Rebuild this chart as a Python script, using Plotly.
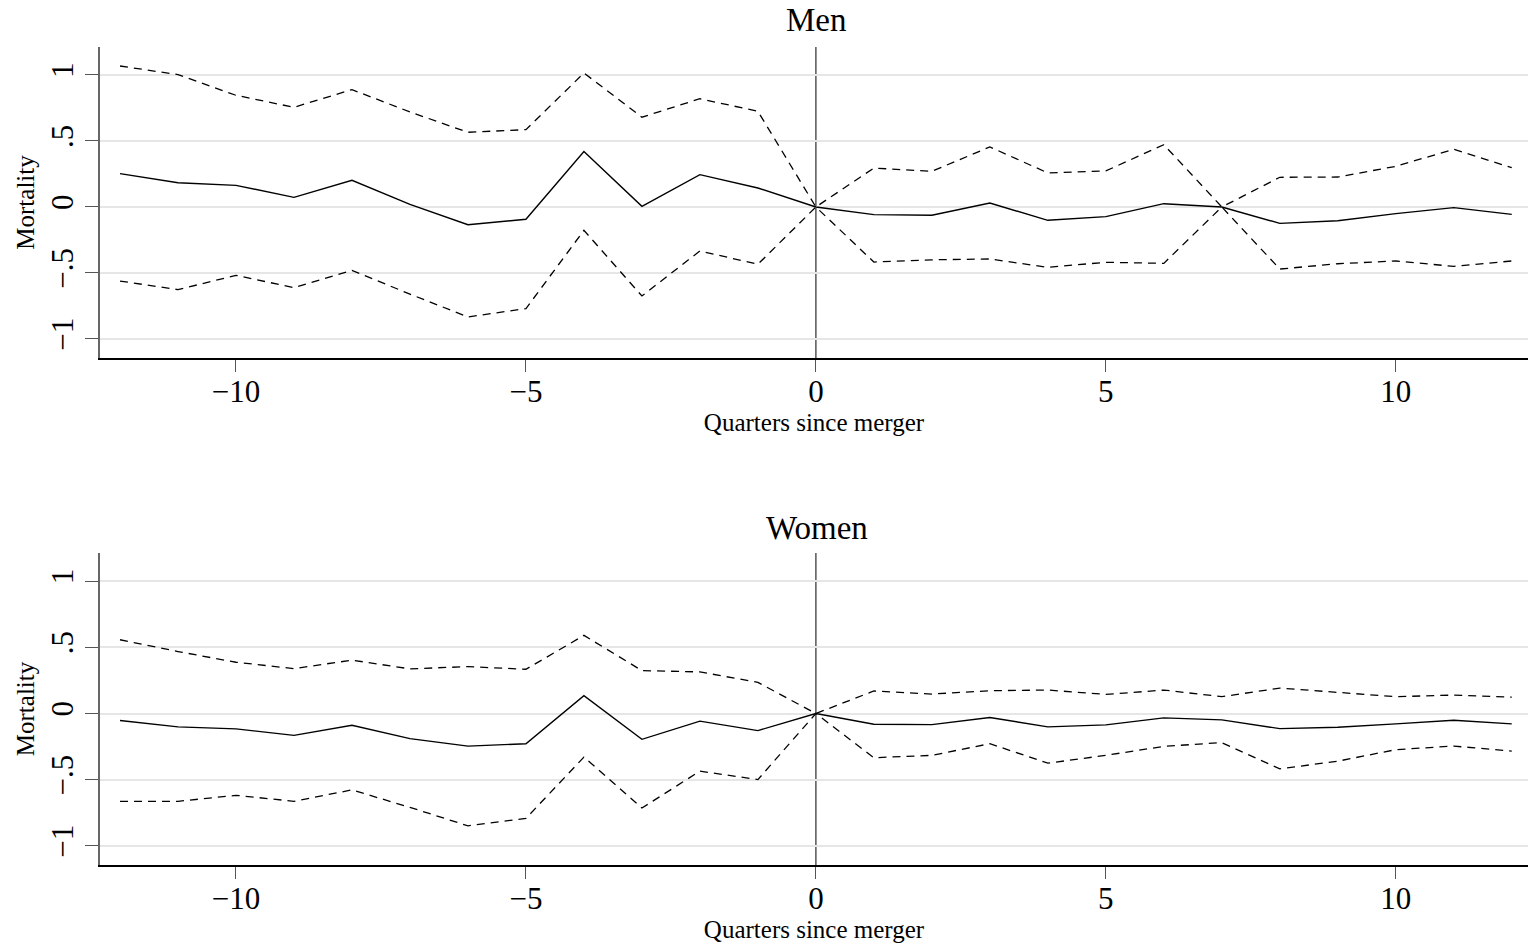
import plotly.graph_objects as go

quarters = list(range(-12, 13))

men_est = [0.253, 0.184, 0.164, 0.073, 0.202, 0.02, -0.134, -0.093, 0.42,
           0.005, 0.245, 0.144, 0.0, -0.058, -0.063, 0.03, -0.101, -0.073,
           0.025, 0.0, -0.124, -0.104, -0.05, -0.005, -0.056]
men_hi = [1.068, 1.003, 0.846, 0.755, 0.889, 0.72, 0.566, 0.586, 1.015,
          0.68, 0.82, 0.725, 0.0, 0.295, 0.27, 0.455, 0.258, 0.273,
          0.472, 0.0, 0.225, 0.227, 0.308, 0.437, 0.298]
men_lo = [-0.561, -0.626, -0.518, -0.611, -0.48, -0.66, -0.833, -0.77, -0.177,
          -0.674, -0.333, -0.434, 0.0, -0.417, -0.4, -0.394, -0.457, -0.419,
          -0.427, 0.0, -0.47, -0.43, -0.409, -0.45, -0.409]

women_est = [-0.053, -0.101, -0.116, -0.165, -0.089, -0.19, -0.246, -0.228, 0.134,
             -0.195, -0.058, -0.129, 0.0, -0.081, -0.084, -0.03, -0.101, -0.086,
             -0.033, -0.048, -0.114, -0.104, -0.078, -0.051, -0.078]
women_hi = [0.557, 0.468, 0.387, 0.339, 0.403, 0.337, 0.354, 0.334, 0.59,
            0.324, 0.314, 0.235, 0.0, 0.17, 0.147, 0.172, 0.177, 0.144,
            0.177, 0.127, 0.192, 0.16, 0.127, 0.139, 0.124]
women_lo = [-0.663, -0.663, -0.618, -0.663, -0.577, -0.709, -0.848, -0.792, -0.329,
            -0.714, -0.435, -0.499, 0.0, -0.334, -0.316, -0.228, -0.375, -0.316,
            -0.248, -0.22, -0.418, -0.36, -0.273, -0.246, -0.284]

x_tickvals = [-10, -5, 0, 5, 10]
x_ticktext = ["\u221210", "\u22125", "0", "5", "10"]
y_tickvals = [1, 0.5, 0, -0.5, -1]
y_ticktext = ["1", ".5", "0", "\u2212.5", "\u22121"]

panel_titles = ["Men", "Women"]
x_title = "Quarters since merger"
y_title = "Mortality"

FONT = "Liberation Serif, Times New Roman, serif"
H, W = 948, 1531

fig = go.Figure()

panels = [(men_est, men_hi, men_lo, "x", "y"),
          (women_est, women_hi, women_lo, "x2", "y2")]
for est, hi, lo, xa, ya in panels:
    fig.add_trace(go.Scatter(x=quarters, y=est, mode="lines", xaxis=xa, yaxis=ya,
                             line=dict(color="black", width=1.4), showlegend=False))
    fig.add_trace(go.Scatter(x=quarters, y=hi, mode="lines", xaxis=xa, yaxis=ya,
                             line=dict(color="black", width=1.3, dash="8px,6px"), showlegend=False))
    fig.add_trace(go.Scatter(x=quarters, y=lo, mode="lines", xaxis=xa, yaxis=ya,
                             line=dict(color="black", width=1.3, dash="8px,6px"), showlegend=False))

xdom = [100 / W, 1528 / W]
ydom_top = [1 - 358 / H, 1 - 47 / H]
ydom_bot = [1 - 865 / H, 1 - 553 / H]

def xaxis_cfg(anchor):
    return dict(domain=xdom, anchor=anchor, range=[-12.345, 12.28], automargin=False,
                tickmode="array", tickvals=x_tickvals, ticktext=x_ticktext,
                ticks="outside", ticklen=12, tickcolor="#555", tickwidth=1,
                ticklabelstandoff=-7,
                showline=True, linecolor="black", linewidth=1.5,
                showgrid=False, zeroline=False,
                tickfont=dict(family=FONT, size=31, color="black"),
                title=dict(text=x_title, font=dict(family=FONT, size=25, color="black"),
                           standoff=0))

def yaxis_cfg(anchor, dom):
    return dict(domain=dom, anchor=anchor, range=[-1.144, 1.212], automargin=False,
                tickmode="array", tickvals=y_tickvals, ticktext=y_ticktext,
                tickangle=-90,
                ticks="outside", ticklen=13, tickcolor="#555", tickwidth=1,
                showline=True, linecolor="#666", linewidth=1.5,
                showgrid=True, gridcolor="#e6e6e6", gridwidth=1.5, zeroline=False,
                tickfont=dict(family=FONT, size=31, color="black"),
                title=dict(text=y_title, font=dict(family=FONT, size=25, color="black"),
                           standoff=3))

fig.update_layout(
    width=W, height=H,
    margin=dict(l=0, r=0, t=0, b=0),
    paper_bgcolor="white", plot_bgcolor="white",
    xaxis=xaxis_cfg("y"), yaxis=yaxis_cfg("x", ydom_top),
    xaxis2=xaxis_cfg("y2"), yaxis2=yaxis_cfg("x2", ydom_bot),
)

for t, yc in zip(panel_titles, [20, 528]):
    fig.add_annotation(text=t, x=817 / W, xref="paper",
                       y=1 - yc / H, yref="paper", showarrow=False,
                       xanchor="center", yanchor="middle",
                       font=dict(family=FONT, size=33, color="black"))

for xr, yr in [("x", "y domain"), ("x2", "y2 domain")]:
    fig.add_shape(type="line", xref=xr, yref=yr, x0=0, x1=0, y0=0, y1=1,
                  line=dict(color="#555", width=1.5), layer="below")

fig.write_html("out.html", config={"displayModeBar": False},
               post_script="document.body.style.margin='0';document.body.style.overflow='hidden';")
